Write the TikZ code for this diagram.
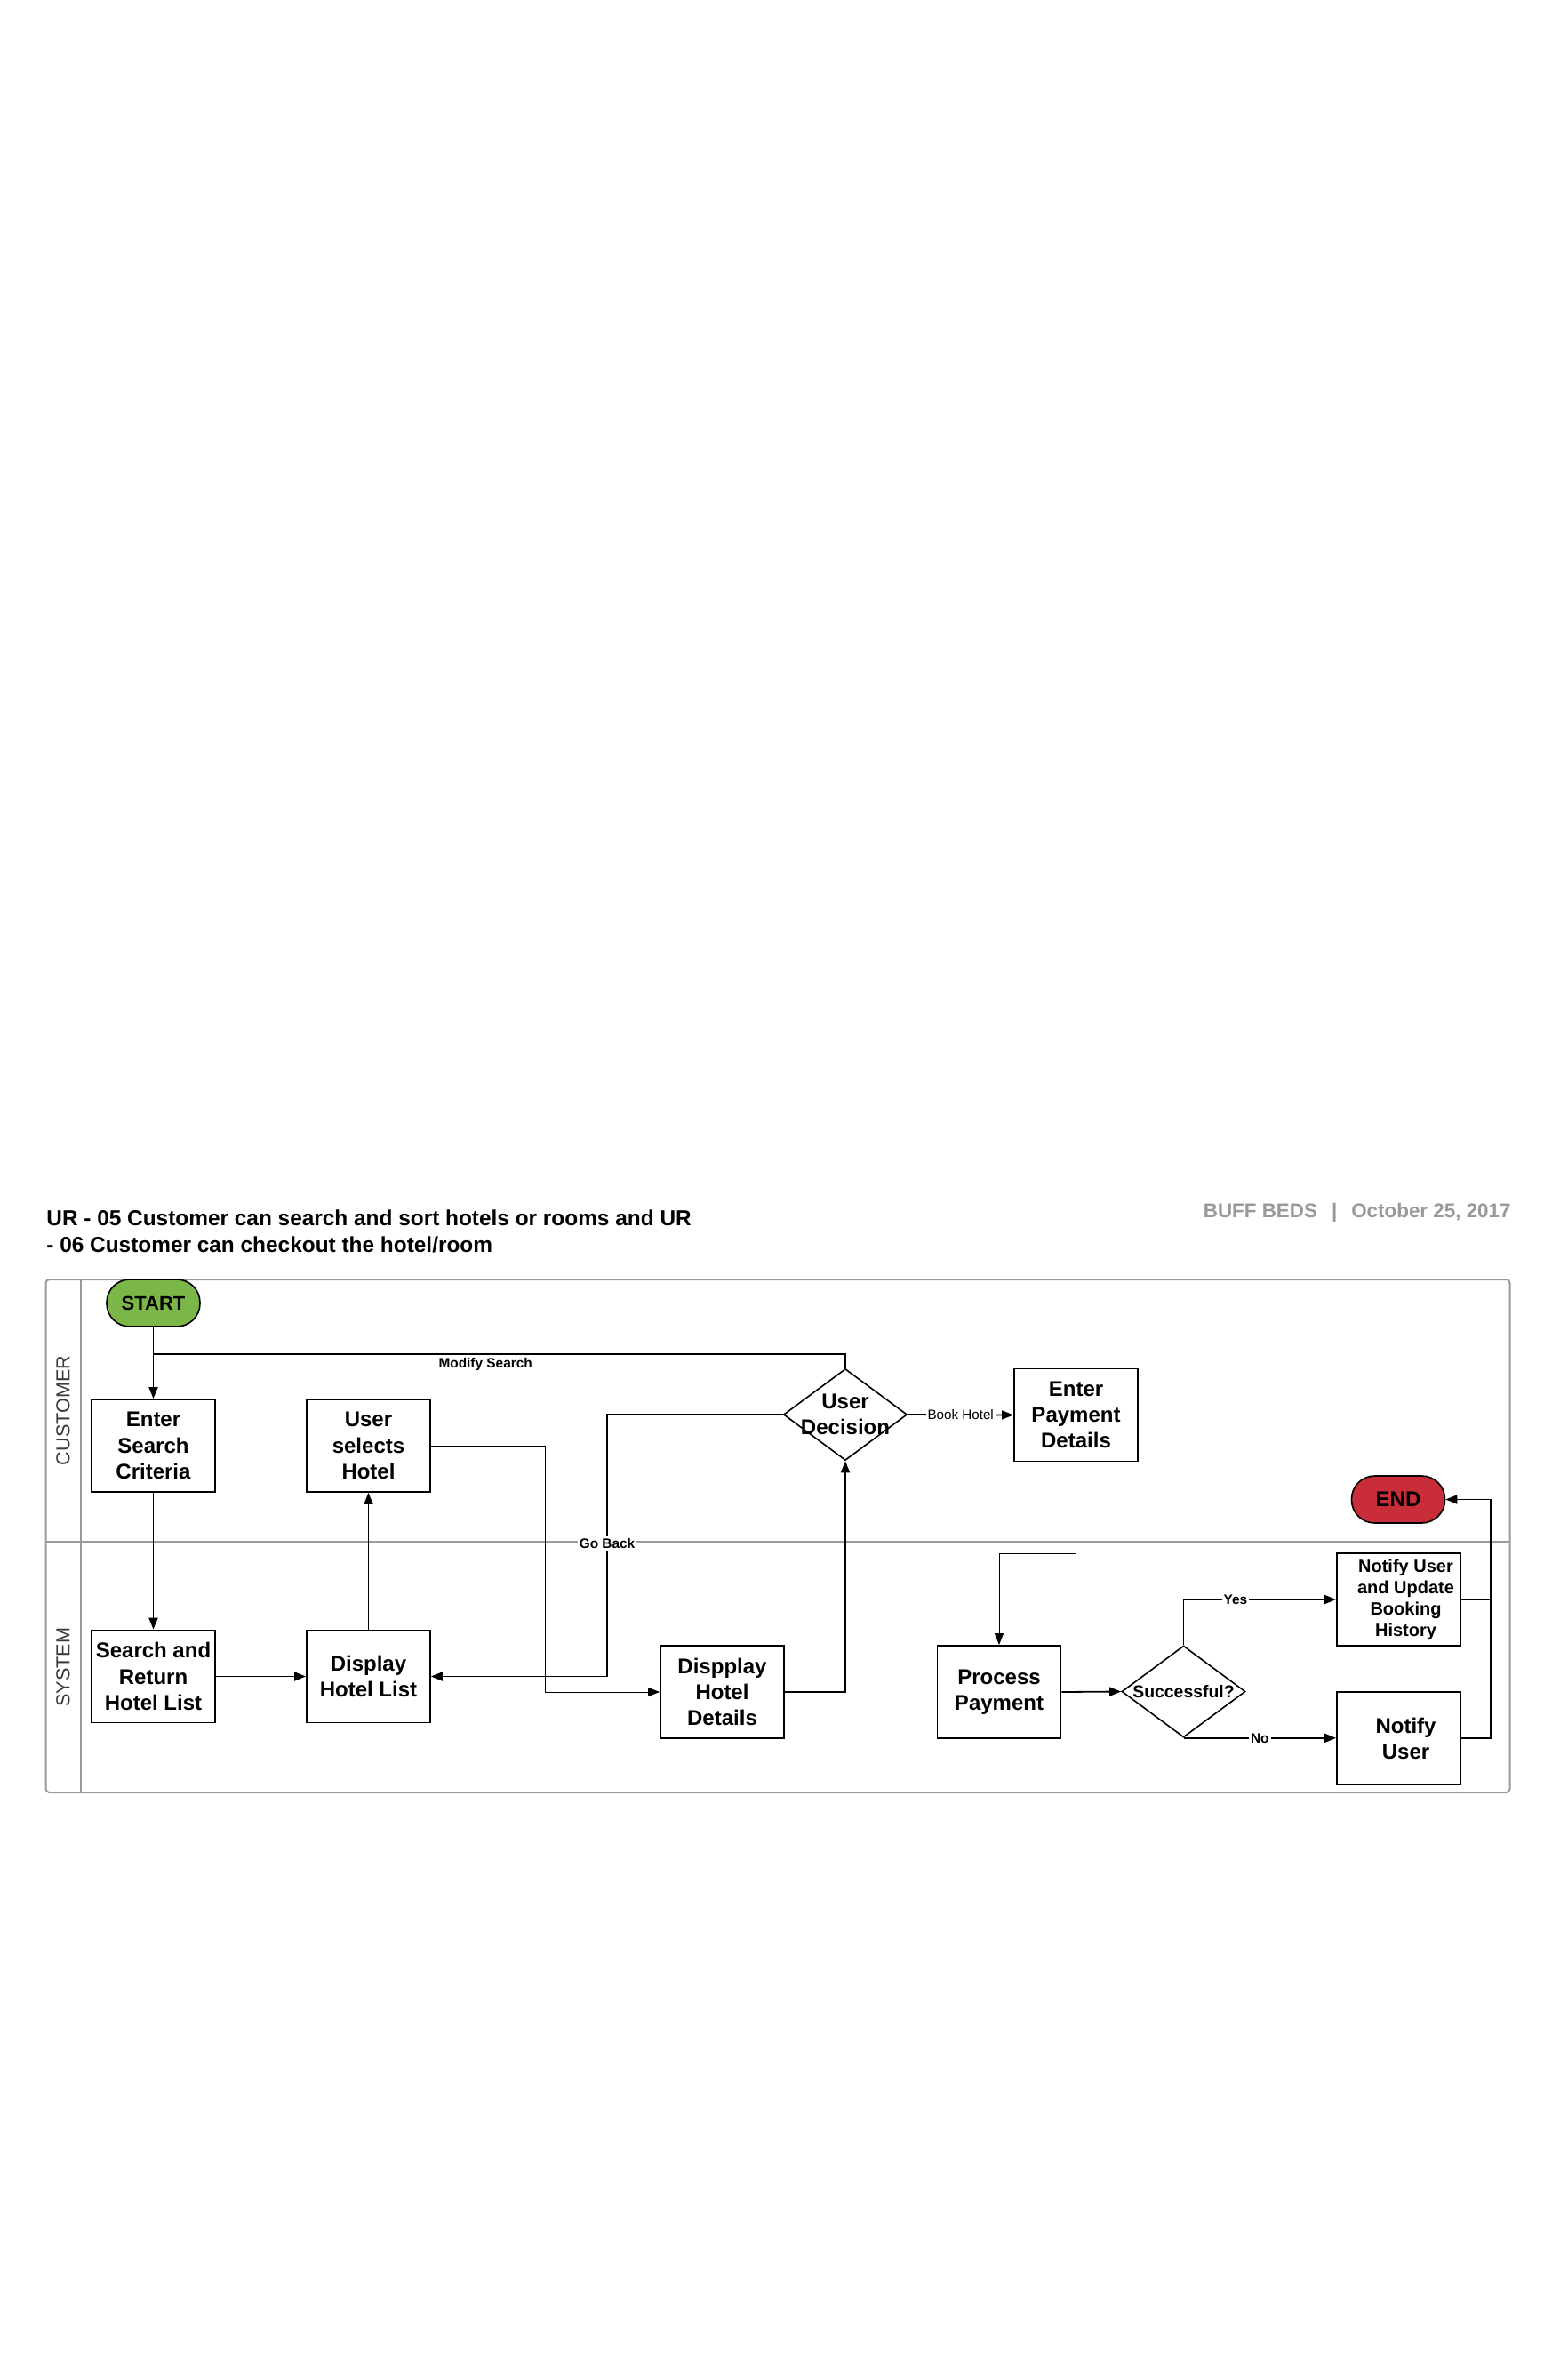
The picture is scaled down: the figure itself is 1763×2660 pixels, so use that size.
\documentclass[tikz,border=0pt]{standalone}
\usepackage{fontspec}
\setmainfont{Liberation Sans}
\usetikzlibrary{shapes.geometric,arrows.meta}

\begin{document}
\begin{tikzpicture}[x=0.5pt, y=-0.5pt]
  \definecolor{startgreen}{HTML}{7AB648}
  \definecolor{endred}{HTML}{C92D39}
  \definecolor{lanegray}{HTML}{9A9A9A}
  \definecolor{headgray}{HTML}{999999}
  \definecolor{lanetext}{HTML}{3A3A3A}
  \tikzstyle{process}=[draw, line width=0.9pt, minimum width=69.5pt, minimum height=52pt, inner sep=0pt, align=center, font=\fontsize{12}{14.6}\selectfont\bfseries]
  \tikzstyle{smallprocess}=[process, font=\fontsize{10}{12}\selectfont\bfseries]
  \tikzstyle{decision}=[draw, diamond, line width=0.8pt, minimum width=69.5pt, minimum height=51.5pt, inner sep=0pt]
  \tikzstyle{decisiontext}=[inner sep=0pt, align=center, font=\fontsize{12}{14.6}\selectfont\bfseries]
  \tikzstyle{terminal}=[draw, line width=0.8pt, rounded corners=13pt, minimum width=52.5pt, minimum height=26.5pt, inner sep=0pt, font=\fontsize{11}{13}\selectfont\bfseries]
  \tikzstyle{flow}=[-{Triangle[length=6.5pt, width=5pt]}, line width=0.9pt]
  \tikzstyle{thinflow}=[flow, line width=0.5pt]
  \tikzstyle{flowlabel}=[fill=white, inner sep=1pt, font=\fontsize{7.7}{9}\selectfont\bfseries]
  \tikzstyle{lanelabel}=[rotate=90, text=lanetext, font=\fontsize{10.8}{13}\selectfont]
  \newcommand{\nudge}{\hspace*{8pt}}

  \fill[white] (0,0) rectangle (1763,2660);
  \useasboundingbox (0,0) rectangle (1763,2660);

  % heading
  \node[anchor=west, align=left, inner sep=0pt, font=\fontsize{12.2}{15}\selectfont\bfseries] (title) at (52,1385)
    {UR - 05 Customer can search and sort hotels or rooms and UR\\- 06 Customer can checkout the hotel/room};
  \node[anchor=east, inner sep=0pt, text=headgray, font=\fontsize{11.2}{13}\selectfont\bfseries] (header) at (1700,1364)
    {BUFF BEDS\hspace{8pt}|\hspace{8pt}October 25, 2017};

  % swimlanes
  \draw[lanegray, line width=1pt, rounded corners=2pt] (51.5,1439) rectangle (1698.5,2016);
  \draw[lanegray, line width=1pt] (90.5,1439) -- (90.5,2016);
  \draw[lanegray, line width=1pt] (51.5,1734) -- (1698.5,1734);
  \node[lanelabel] (customer) at (71,1586.5) {CUSTOMER};
  \node[lanelabel] (system) at (71,1875) {SYSTEM};

  \node[terminal, fill=startgreen] (start) at (172.5,1465.5) {START};
  \node[process] (enter) at (172.5,1626) {Enter\\Search\\Criteria};
  \node[process] (select) at (414.5,1626) {User\\selects\\Hotel};
  \node[process] (search) at (172.5,1885.5) {Search and\\Return\\Hotel List};
  \node[process] (display) at (414.5,1885.5) {Display\\Hotel List};
  \node[process] (details) at (812.5,1903) {Dispplay\\Hotel\\Details};
  \node[decision] (decision) at (951,1591) {};
  \node[decisiontext] (decisiontext) at (decision) {User\\Decision};
  \node[process] (payment) at (1210.5,1591.5) {Enter\\Payment\\Details};
  \node[process] (process) at (1124,1903) {Process\\Payment};
  \node[decision] (success) at (1331.5,1902.5) {};
  \node[decisiontext, font=\fontsize{9.7}{12}\selectfont\bfseries] (successtext) at (success) {Successful?};
  \node[smallprocess] (update) at (1573.5,1799) {\nudge Notify User\\\nudge and Update\\\nudge Booking\\\nudge History};
  \node[process] (notify) at (1573.5,1955) {\nudge Notify\\\nudge User};
  \node[terminal, fill=endred, font=\fontsize{12}{14}\selectfont\bfseries] (stop) at (1573,1686.5) {END};

  \coordinate (modjoin) at (172.5,1522.7);
  \coordinate (goback) at (683,1885.5);
  \coordinate (selbend) at (613,1626);
  \coordinate (paybend) at (1210.5,1747);
  \coordinate (endbend) at (1677,1955);

  \draw[flow] (start) -- (enter);
  \draw[line width=0.9pt] (decision.north) |- node[pos=0.76, below, inner sep=2pt, font=\fontsize{7.7}{9}\selectfont\bfseries] (modlabel) {Modify Search} (modjoin);
  \draw[flow] (enter) -- (search);
  \draw[flow] (search) -- (display);
  \draw[flow] (display) -- (select);
  \draw[thinflow] (select.east) -- (selbend) |- (details.west);
  \draw[flow] (details.east) -| (decision.south);
  \draw[flow] (decision.west) -| node[flowlabel, pos=0.746] (gobacklabel) {Go Back} (goback) -- (display.east);
  \draw[flow] (decision.east) -- node[flowlabel, font=\fontsize{7.6}{9}\selectfont] (booklabel) {Book Hotel} (payment.west);
  \draw[thinflow] (payment.south) -- (paybend) -| (process.north);
  \draw[flow] (process.east) -- (success.west);
  \draw[flow] (success.north) |- node[flowlabel, pos=0.67] (yeslabel) {Yes} (update.west);
  \draw[flow] (success.south) -- node[flowlabel, pos=0.5] (nolabel) {No} (success.south -| notify.west);
  \draw[flow] (notify.east) -- (endbend) |- (stop.east);
  \draw[line width=0.5pt] (update.east) -- (update.east -| endbend);

\end{tikzpicture}
\end{document}
